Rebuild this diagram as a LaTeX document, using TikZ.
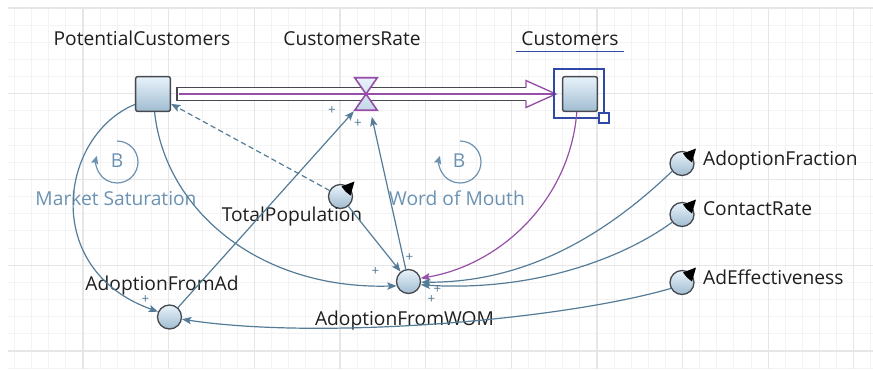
\documentclass[tikz,border=0pt]{standalone}
\usepackage{fontspec}
\setmainfont{Open Sans}
\usetikzlibrary{arrows.meta}
\definecolor{linkblue}{RGB}{84,124,152}
\definecolor{loopblue}{RGB}{108,146,178}
\definecolor{flowpurple}{RGB}{150,78,168}
\definecolor{stockedge}{RGB}{70,74,80}
\definecolor{stocktop}{RGB}{232,243,251}
\definecolor{stockbot}{RGB}{160,188,208}
\definecolor{valvebot}{RGB}{196,216,230}
\definecolor{selblue}{RGB}{48,72,168}
\definecolor{gridminor}{RGB}{243,243,243}
\definecolor{gridmajor}{RGB}{230,230,230}
\definecolor{labeltext}{RGB}{30,30,30}
\tikzset{
  stock/.style={draw=stockedge, line width=1.1pt, rounded corners=1.5pt,
    minimum size=26pt, inner sep=0pt, top color=stocktop, bottom color=stockbot},
  aux/.style={circle, draw=stockedge, line width=1pt, minimum size=18pt,
    inner sep=0pt, top color=stocktop, bottom color=stockbot},
  valvebox/.style={minimum width=16.5pt, minimum height=24pt, inner sep=0pt},
  vlabel/.style={font=\fontsize{14.4}{17}\selectfont, text=labeltext,
    inner sep=1pt, text height=0.75em, text depth=0.25em},
  looplabel/.style={vlabel, text=loopblue},
  pol/.style={font=\fontsize{10}{12}\selectfont, text=linkblue, inner sep=0pt},
  link/.style={draw=linkblue, line width=0.9pt,
    -{Stealth[length=7pt,width=5.5pt,inset=1.5pt]}},
  stocklink/.style={link, draw=flowpurple, -{Stealth[length=7pt,width=5.5pt,inset=1.5pt,color=flowpurple]}},
  loopmark/.style={draw=loopblue, line width=0.9pt,
    -{Stealth[length=6pt,width=5.5pt,inset=1pt]}},
}
\begin{document}
\begin{tikzpicture}[x=0.75pt,y=-0.75pt]
  \useasboundingbox (0,0) rectangle (873,369);
  % background grid
  \foreach \k in {0,...,50} {
    \pgfmathsetmacro{\gx}{14.48+17.13*\k}
    \draw[gridminor, line width=0.75pt] (\gx,8) -- (\gx,369);
  }
  \foreach \k in {0,...,21} {
    \pgfmathsetmacro{\gy}{8+17.15*\k}
    \draw[gridminor, line width=0.75pt] (8,\gy) -- (873,\gy);
  }
  \foreach \k in {0,...,9} {
    \pgfmathsetmacro{\gx}{83+85.65*\k}
    \draw[gridmajor, line width=0.9pt] (\gx,8) -- (\gx,369);
  }
  \foreach \k in {0,...,4} {
    \pgfmathsetmacro{\gy}{8+85.75*\k}
    \draw[gridmajor, line width=0.9pt] (8,\gy) -- (873,\gy);
  }

  % stocks, flow valve and variables
  \node[stock] (pcust) at (153,94) {};
  \node[stock] (cust) at (580,94) {};
  \node[valvebox] (crate) at (366,94) {};
  \node[aux] (totpop) at (340.5,196.5) {};
  \node[aux] (adfrac) at (682,163.5) {};
  \node[aux] (contact) at (682,214.5) {};
  \node[aux] (adeff) at (682,282.5) {};
  \node[aux] (wom) at (408.5,281.5) {};
  \node[aux] (adad) at (169.5,317) {};

  % constant markers
  \foreach \n in {totpop,adfrac,contact,adeff}
    \fill[black] ([shift={(14,-15)}]\n.center) -- ([shift={(1,-10)}]\n.center)
      -- ([shift={(5,-5)}]\n.center) -- ([shift={(10,-1)}]\n.center) -- cycle;

  % flow pipe
  \coordinate (pipein) at ([shift={(6,0)}]pcust.east);
  \coordinate (pipetip) at ([shift={(-6,0)}]cust.west);
  \filldraw[fill=white, draw=flowpurple, line width=1pt]
    ([shift={(-30,-6.5)}]pipetip) -- ([shift={(-30,-13.5)}]pipetip) -- (pipetip)
    -- ([shift={(-30,13.5)}]pipetip) -- ([shift={(-30,6.5)}]pipetip);
  \fill[white] ([shift={(0,-6.5)}]pipein) rectangle ([shift={(-30,6.5)}]pipetip);
  \draw[stockedge, line width=1pt] ([shift={(-30,-6.5)}]pipetip)
    -- ([shift={(0,-6.5)}]pipein) -- ([shift={(0,6.5)}]pipein)
    -- ([shift={(-30,6.5)}]pipetip);
  \draw[flowpurple, line width=1.4pt] ([shift={(2,0)}]pipein) -- (pipetip);
  \draw[draw=flowpurple, line width=1.2pt, top color=stocktop, bottom color=valvebot]
    (crate.north west) -- (crate.north east) -- (crate.south west)
    -- (crate.south east) -- cycle;

  % selection frame of Customers
  \draw[selblue, line width=0.9pt] ([shift={(-8,-7)}]cust.north west)
    rectangle ([shift={(6,6)}]cust.south east);
  \coordinate (handle) at ([shift={(6,6)}]cust.south east);
  \filldraw[fill=white, draw=selblue, line width=0.9pt]
    ([shift={(-5,-5)}]handle) rectangle ([shift={(5,5)}]handle);

  % names
  \node[vlabel] (pcustlbl) at (142,42.5) {PotentialCustomers};
  \node[vlabel] (cratelbl) at (352,42.5) {CustomersRate};
  \node[vlabel, inner xsep=4pt] (custlbl) at (570,42.5) {Customers};
  \draw[selblue, line width=0.9pt] ([shift={(0,6)}]custlbl.base west)
    -- ([shift={(0,6)}]custlbl.base east);
  \node[vlabel] (totpoplbl) at (292,218.5) {TotalPopulation};
  \node[vlabel, anchor=west] (adfraclbl) at (701.5,162.5) {AdoptionFraction};
  \node[vlabel, anchor=west] (contactlbl) at (701.5,212.5) {ContactRate};
  \node[vlabel, anchor=west] (adefflbl) at (701.5,281.5) {AdEffectiveness};
  \node[vlabel] (womlbl) at (404.5,322.5) {AdoptionFromWOM};
  \node[vlabel] (adadlbl) at (162,287.5) {AdoptionFromAd};

  % loops
  \node[looplabel] (loopms) at (117,164.5) {B};
  \node[looplabel] (loopwom) at (459,164.5) {B};
  \draw[loopmark] (117,141) arc[start angle=-90, end angle=197, radius=21];
  \draw[loopmark] (460,141) arc[start angle=-90, end angle=197, radius=21];
  \node[looplabel] (msname) at (116,202.5) {Market Saturation};
  \node[looplabel] (womname) at (457,202.5) {Word of Mouth};

  % causal links
  \draw[link] (pcust.210) .. controls +(-75.5,31) and +(-118,-42) .. (adad.155);
  \draw[link] (pcust.-85) .. controls +(10.5,98.5) and +(-137,4) .. (wom.200);
  \draw[link, dash pattern=on 4pt off 2.5pt] (totpop) -- (pcust);
  \draw[link] (totpop) -- (wom);
  \draw[link, shorten >=1pt] (adad) -- (crate.south west);
  \draw[link, shorten >=5pt] (wom) -- (crate.-75);
  \draw[stocklink] (cust.-100) .. controls +(-7,88.5) and +(79.4,-13.3) .. (wom.15);
  \draw[link] (adfrac.218) .. controls +(-72,69) and +(99,0.5) .. (wom.-3);
  \draw[link] (contact.218) .. controls +(-52,38) and +(109,7) .. (wom.-15);
  \draw[link] (adeff.208) .. controls +(-111,32) and +(138,21) .. (adad.-10);

  % polarities
  \node[pol] (sgnad) at ([shift={(-24,-17)}]adad) {+};
  \node[pol] (sgnrate1) at ([shift={(-34,17)}]crate) {+};
  \node[pol] (sgnrate2) at ([shift={(-8,30)}]crate) {+};
  \node[pol] (sgnwom1) at ([shift={(-33,-10)}]wom) {+};
  \node[pol] (sgnwom2) at ([shift={(1,-24)}]wom) {+};
  \node[pol] (sgnwom3) at ([shift={(29,8)}]wom) {+};
  \node[pol] (sgnwom4) at ([shift={(23,18)}]wom) {+};
\end{tikzpicture}
\end{document}
